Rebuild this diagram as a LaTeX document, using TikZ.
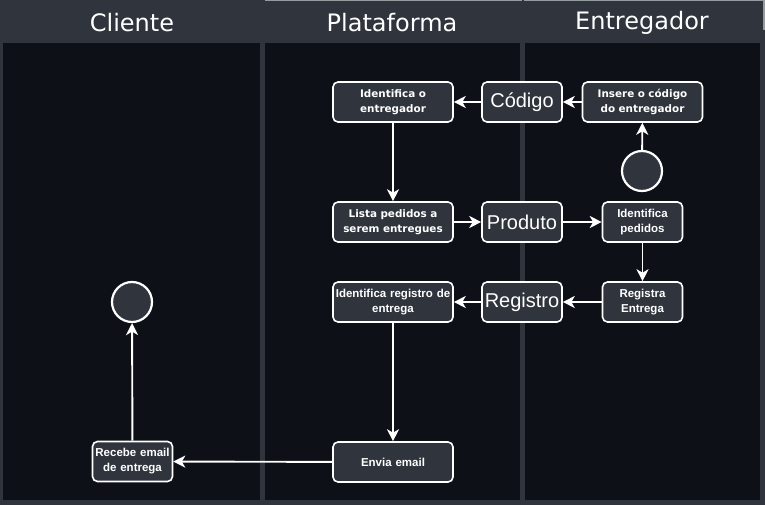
\documentclass[tikz,border=0pt]{standalone}
\usepackage{fontspec}
\setmainfont{Liberation Sans}
\newfontfamily\hdrfont{DejaVu Sans}
\newfontfamily\dvbfont{DejaVu Sans}
\usetikzlibrary{arrows.meta}
\definecolor{hdrbg}{RGB}{47,52,61}
\definecolor{lanebg}{RGB}{13,16,23}
\definecolor{boxbg}{RGB}{47,52,61}
\definecolor{topline}{RGB}{150,155,160}
\tikzset{
  lane/.style={fill=lanebg, draw=none},
  hdr/.style={text=white, font=\hdrfont\fontsize{24}{28}\selectfont},
  actbox/.style={draw=white, line width=1.6pt, fill=boxbg, rounded corners=5pt,
     minimum height=40pt, text=white, align=center, inner sep=1pt},
  widebox/.style={actbox, minimum width=120pt, text width=118pt},
  narrowbox/.style={actbox, minimum width=80pt, text width=78pt},
  dvtext/.style={font=\dvbfont\bfseries\fontsize{10.4}{15}\selectfont},
  lstext/.style={font=\bfseries\fontsize{11.5}{15}\selectfont},
  bigtext/.style={font=\fontsize{20}{24}\selectfont},
  statecirc/.style={circle, draw=white, line width=2.2pt, fill=boxbg, minimum size=40pt, inner sep=0pt},
  flow/.style={draw=white, line width=1.9pt, -{Stealth[length=12pt,width=12pt,inset=3.5pt]}}
}
\begin{document}
\begin{tikzpicture}[x=1pt,y=-1pt]
\fill[hdrbg] (0,0) rectangle (765,505);
\useasboundingbox (0,0) rectangle (765,505);
\draw[topline, line width=1.2pt] (265,0.6) -- (522,0.6);
\draw[topline, line width=1.2pt] (524,0.6) -- (765,0.6);
\draw[topline, line width=1.5pt] (764.2,0) -- (764.2,30);
% lanes
\fill[lane] (3,43) rectangle (260,500);
\fill[lane] (265,43) rectangle (520,500);
\fill[lane] (525,43) rectangle (760,500);
% headers
\node[hdr] (hc) at (132,23) {Cliente};
\node[hdr] (hp) at (392,23) {Plataforma};
\node[hdr] (he) at (642,23) {Entregador};
% nodes
\node[statecirc] (start) at (642,171) {};
\node[widebox, dvtext] (insere) at (642.5,102) {Insere o código\\do entregador};
\node[narrowbox, bigtext] (codigo) at (522,102) {Código};
\node[widebox, dvtext] (identent) at (393,102) {Identifica o\\entregador};
\node[widebox, dvtext] (lista) at (393,222) {Lista pedidos a\\serem entregues};
\node[narrowbox, bigtext] (produto) at (522,222) {Produto};
\node[narrowbox, lstext] (identped) at (642.5,222) {Identifica\\pedidos};
\node[narrowbox, lstext] (registra) at (642.5,302) {Registra\\Entrega};
\node[narrowbox, bigtext] (registro) at (522,302) {Registro};
\node[widebox, lstext] (identreg) at (393,302) {Identifica registro de\\entrega};
\node[widebox, lstext] (envia) at (393,462) {Envia email};
\node[narrowbox, lstext] (recebe) at (132.5,461.5) {Recebe email\\de entrega};
\node[statecirc] (fim) at (132,302) {};
% flows
\draw[flow] (start) -- (insere);
\draw[flow] (insere) -- (codigo);
\draw[flow] (codigo) -- (identent);
\draw[flow] (identent) -- (lista);
\draw[flow] (lista) -- (produto);
\draw[flow] (produto) -- (identped);
\draw[flow] (identped) -- (registra);
\draw[flow] (registra) -- (registro);
\draw[flow] (registro) -- (identreg);
\draw[flow] (identreg) -- (envia);
\draw[flow] (envia) -- (recebe);
\draw[flow] (recebe) -- (fim);
\end{tikzpicture}
\end{document}
